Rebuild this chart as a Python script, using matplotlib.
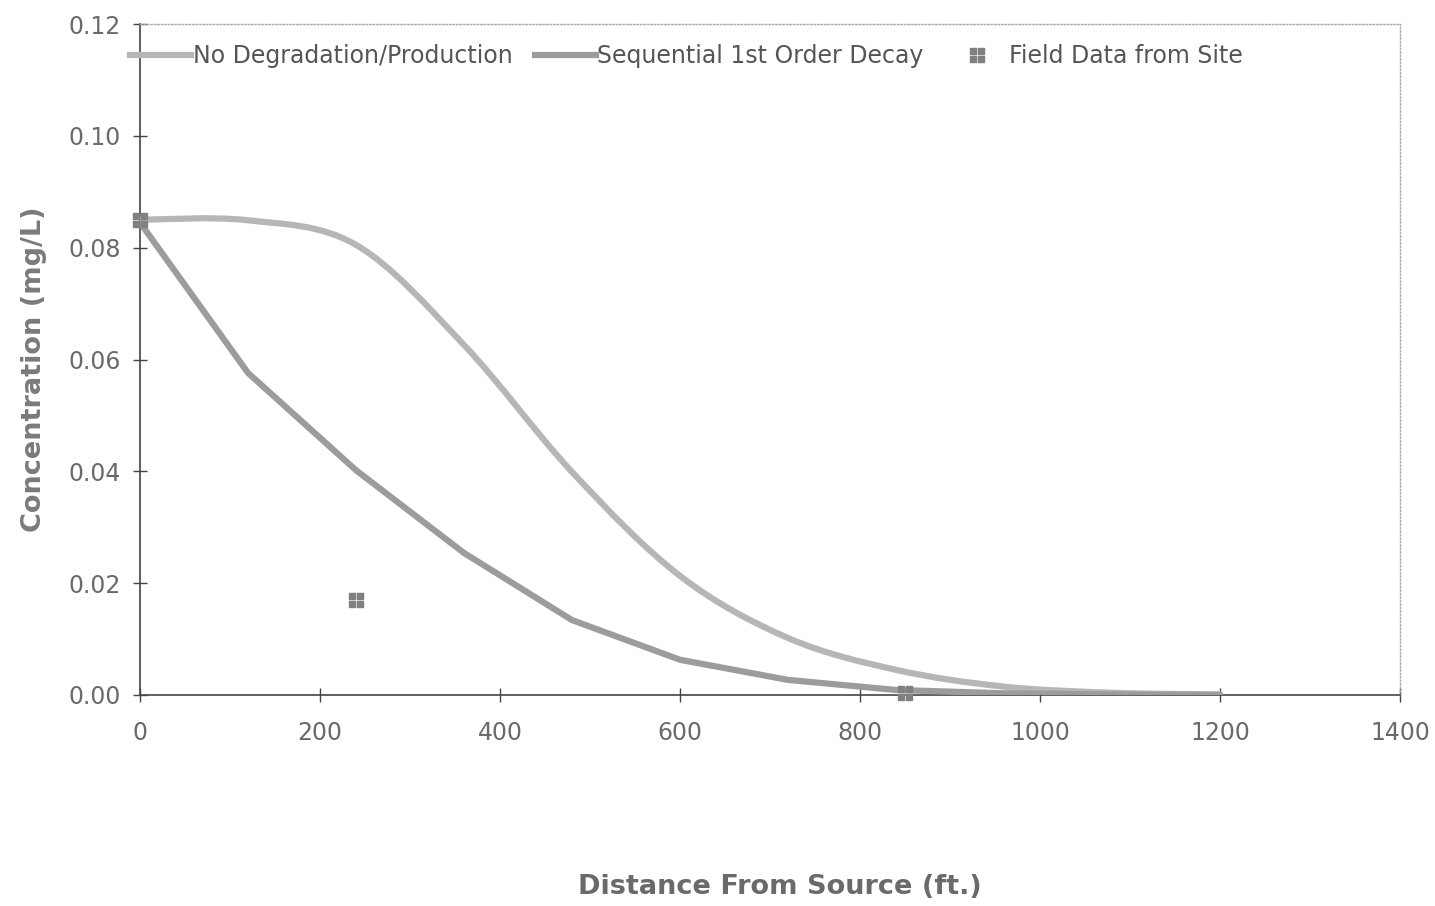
import matplotlib
matplotlib.use('Agg')
import matplotlib.pyplot as plt
from matplotlib.path import Path
from matplotlib.patches import PathPatch
from matplotlib.lines import Line2D
import numpy as np

plt.rcParams['font.family'] = ['DejaVu Sans']

# distance from source (ft)
dist = [0, 120, 240, 360, 480, 600, 720, 840, 960, 1080, 1200]
no_degradation = [0.085, 0.0849, 0.0805, 0.0626, 0.0399, 0.0213, 0.0102,
                  0.0045, 0.0015, 0.0004, 0.0001]
seq_decay = [0.0845, 0.0576, 0.0402, 0.0254, 0.0134, 0.0063, 0.0027,
             0.0009, 0.0003, 0.0001, 0.0]

field_x = [0, 240, 850]
field_y = [0.085, 0.017, 0.0003]

LIGHT = '#b6b6b6'
DARK = '#9c9c9c'


def _checker_marker():
    # 2x2 grid of little squares, like the scanned legend glyph
    verts, codes = [], []
    for cx, cy in [(-0.5, -0.5), (0.5, -0.5), (-0.5, 0.5), (0.5, 0.5)]:
        s = 0.4
        verts += [(cx - s, cy - s), (cx + s, cy - s), (cx + s, cy + s),
                  (cx - s, cy + s), (cx - s, cy - s)]
        codes += [Path.MOVETO, Path.LINETO, Path.LINETO, Path.LINETO,
                  Path.CLOSEPOLY]
    return Path(verts, codes)


def _smooth_path(x, y):
    # Excel-style smoothed line: Catmull-Rom segments as cubic Beziers
    x, y = np.asarray(x, float), np.asarray(y, float)
    verts = [(x[0], y[0])]
    codes = [Path.MOVETO]
    n = len(x)
    for i in range(n - 1):
        i0, i3 = max(i - 1, 0), min(i + 2, n - 1)
        c1 = (x[i] + (x[i + 1] - x[i0]) / 6, y[i] + (y[i + 1] - y[i0]) / 6)
        c2 = (x[i + 1] - (x[i3] - x[i]) / 6, y[i + 1] - (y[i3] - y[i]) / 6)
        verts += [c1, c2, (x[i + 1], y[i + 1])]
        codes += [Path.CURVE4] * 3
    return Path(verts, codes)


fig = plt.figure(figsize=(14.35, 9.06), dpi=100)
ax = fig.add_axes([140 / 1435, 1 - 695 / 906, 1260 / 1435, 671 / 906])

ax.add_patch(PathPatch(_smooth_path(dist, no_degradation), fill=False,
                       edgecolor=LIGHT, lw=4.5, capstyle='round', zorder=3))
ax.plot(dist, seq_decay, color=DARK, lw=4.5, solid_capstyle='round',
        solid_joinstyle='round', zorder=3)
ax.plot(field_x, field_y, ls='none', marker=_checker_marker(), ms=10,
        color='#808080', mec='#808080', zorder=4, clip_on=False)

ax.set_xlim(0, 1400)
ax.set_ylim(0, 0.12)
ax.set_xticks(np.arange(0, 1401, 200))
ax.set_yticks(np.arange(0, 0.121, 0.02))
ax.yaxis.set_major_formatter(plt.FuncFormatter(lambda v, p: f'{v:.2f}'))
ax.tick_params(direction='inout', length=10, width=1, color='#444',
               labelsize=17, labelcolor='#6a6a6a')
ax.tick_params(axis='y', pad=9)
ax.tick_params(axis='x', pad=14)

for side in ['left', 'bottom']:
    ax.spines[side].set_color('#444')
    ax.spines[side].set_linewidth(1.2)
for side in ['top', 'right']:
    ax.spines[side].set_color('#aaaaaa')
    ax.spines[side].set_linestyle((0, (1, 1.5)))
    ax.spines[side].set_linewidth(1)

ax.set_ylabel('Concentration (mg/L)', fontsize=19.5, fontweight='bold',
              color='#7a7a7a')
ax.yaxis.set_label_coords(-0.074, 0.485)
fig.text(780 / 1435, 1 - 887 / 906, 'Distance From Source (ft.)',
         ha='center', va='center', fontsize=19.5, fontweight='bold',
         color='#6a6a6a')

handles = [
    Line2D([], [], color=LIGHT, lw=4.5),
    Line2D([], [], color=DARK, lw=4.5),
    Line2D([], [], ls='none', marker=_checker_marker(), ms=10,
           color='#808080'),
]
labels = ['No Degradation/Production', 'Sequential 1st Order Decay',
          'Field Data from Site']
leg = ax.legend(handles, labels, loc='upper left',
                bbox_to_anchor=(-0.021, 0.995), ncol=3, frameon=False,
                fontsize=17, handlelength=2.6, handletextpad=0.05,
                columnspacing=0.95, borderaxespad=0.3)
for t in leg.get_texts():
    t.set_color('#555')

fig.savefig('out.png', dpi=100)
